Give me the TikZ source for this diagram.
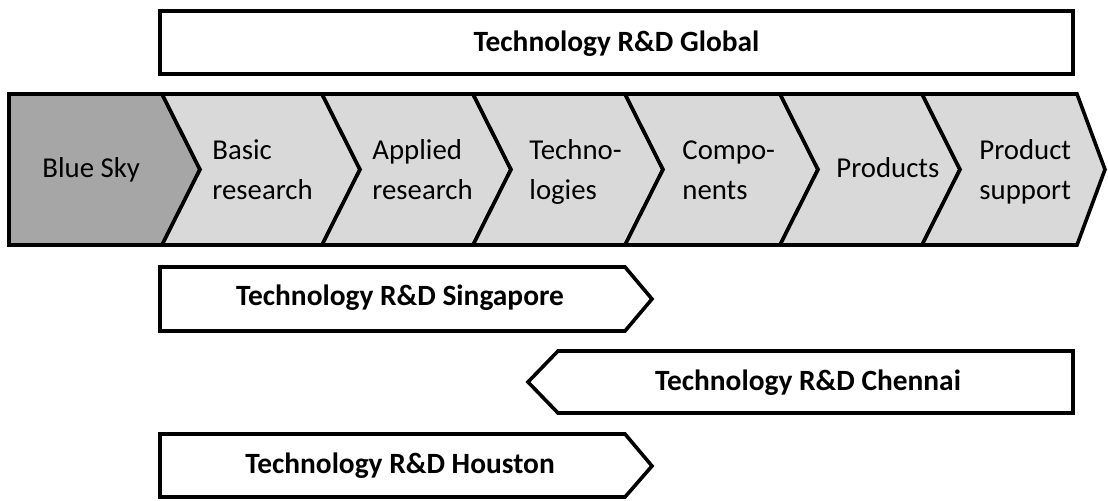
\documentclass[tikz,border=0pt]{standalone}
\usepackage{fontspec}
\setmainfont{Carlito}
\definecolor{darkfill}{HTML}{A6A6A6}
\definecolor{lightfill}{HTML}{D9D9D9}
\tikzset{
  outline/.style={draw=black, line width=1.8pt, line join=miter},
  chevtext/.style={anchor=base west, inner sep=0pt, align=left,
    font=\fontsize{14.4}{20}\selectfont},
  boldtext/.style={anchor=base, inner sep=0pt,
    font=\fontsize{14.7}{20}\selectfont\bfseries}
}
\begin{document}
\begin{tikzpicture}[x=0.5pt,y=-0.5pt]
\useasboundingbox (0,0) rectangle (1108,500);
% Global box
\draw[outline, fill=white] (160,11) rectangle (1073,74);
\node[boldtext] (global) at (616.5,51) {Technology R\&D Global};
% Chevron band
\draw[outline, fill=darkfill] (9,94) -- (162,94) -- (200,169.5) -- (162,245) -- (9,245) -- cycle;
\foreach \a/\b in {162/322, 322/473, 473/625, 625/780, 780/922}{
  \draw[outline, fill=lightfill] (\a,94) -- (\b,94) -- (\b+38,169.5) -- (\b,245) -- (\a,245) -- (\a+38,169.5) -- cycle;
}
\draw[outline, fill=lightfill] (922,94) -- (1077,94) -- (1105,169.5) -- (1077,245) -- (922,245) -- (960,169.5) -- cycle;
\node[chevtext] (bluesky) at (42,177) {Blue Sky};
\node[chevtext] (basic) at (212,199) {Basic\\research};
\node[chevtext] (applied) at (372,199) {Applied\\research};
\node[chevtext] (techno) at (529,199) {Techno-\\logies};
\node[chevtext] (compo) at (682,199) {Compo-\\nents};
\node[chevtext] (products) at (836,177) {Products};
\node[chevtext] (support) at (979,199) {Product\\support};
% Singapore
\draw[outline, fill=white] (160,267) -- (625,267) -- (652,299) -- (625,331) -- (160,331) -- cycle;
\node[boldtext] (singapore) at (400,305) {Technology R\&D Singapore};
% Chennai
\draw[outline, fill=white] (558,351) -- (1073,351) -- (1073,413) -- (558,413) -- (528,382) -- cycle;
\node[boldtext] (chennai) at (808,390) {Technology R\&D Chennai};
% Houston
\draw[outline, fill=white] (160,434) -- (625,434) -- (652,466) -- (625,497) -- (160,497) -- cycle;
\node[boldtext] (houston) at (400,473) {Technology R\&D Houston};
\end{tikzpicture}
\end{document}
